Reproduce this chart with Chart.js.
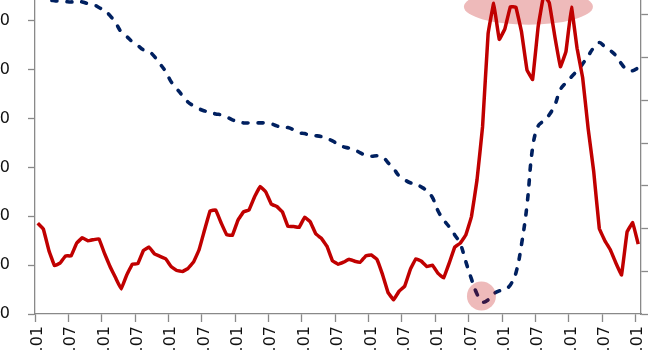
<!DOCTYPE html>
<html>
<head>
<meta charset="utf-8">
<script src="https://cdn.jsdelivr.net/npm/chart.js@4.4.1/dist/chart.umd.min.js"></script>
<style>
  html, body { margin: 0; padding: 0; background: #ffffff; overflow: hidden; width: 650px; height: 350px; }
  #wrap { position: absolute; left: -60px; top: -56px; width: 780px; height: 456px; }
  canvas { display: block; }
</style>
</head>
<body>
<div id="wrap"><canvas id="c" width="780" height="456"></canvas></div>
<script>
// ---- categories (monthly, 2002.01 .. 2011.01) ----
const startYear = 2002;
const monthCount = 109;
const months = [];
for (let k = 0; k < monthCount; k++) {
  const y = startYear + Math.floor(k / 12);
  const m = (k % 12) + 1;
  months.push(y + '.' + (m < 10 ? '0' + m : m));
}

// ---- left axis series (red, solid) ----
const redSeries = [
  18.6, 17.4, 13.0, 9.9, 10.4, 11.9, 11.9, 14.5, 15.6, 15.0,
  15.2, 15.4, 12.4, 9.7, 7.4, 5.1, 8.0, 10.2, 10.3, 13.0,
  13.7, 12.3, 11.8, 11.3, 9.7, 8.9, 8.7, 9.3, 10.6, 13.1,
  17.2, 21.1, 21.3, 18.6, 16.2, 16.1, 19.2, 20.9, 21.3, 24.0,
  26.1, 25.0, 22.5, 22.0, 20.9, 17.9, 17.9, 17.7, 19.8, 18.9,
  16.4, 15.5, 13.9, 10.9, 10.2, 10.6, 11.2, 10.8, 10.6, 11.9,
  12.1, 11.2, 8.1, 4.4, 2.9, 4.7, 5.7, 9.1, 11.3, 10.8,
  9.7, 10.0, 8.3, 7.4, 10.4, 13.7, 14.5, 16.2, 19.9, 27.4,
  38.3, 57.4, 63.6, 56.2, 58.3, 62.9, 62.8, 57.8, 49.9, 48.0,
  58.8, 65.3, 63.7, 56.8, 50.6, 53.7, 62.8, 54.4, 48.4, 37.9,
  29.1, 17.5, 15.0, 13.1, 10.4, 8.0, 16.8, 18.7, 14.3
];

// ---- right axis series (navy, dashed) ----
const blueSeries = [
  74.5, 74.0, 73.5, 73.3, 73.2, 73.1, 73.0, 73.2, 73.0, 72.6,
  72.4, 71.7, 71.0, 69.8, 68.1, 66.0, 64.9, 63.7, 62.8, 61.8,
  61.4, 60.2, 58.5, 56.7, 54.3, 52.7, 51.1, 49.6, 48.7, 48.0,
  47.5, 47.2, 46.8, 46.6, 46.1, 45.4, 45.1, 44.7, 44.7, 44.7,
  44.7, 44.7, 44.5, 44.0, 43.7, 43.6, 43.1, 42.4, 42.2, 41.8,
  41.7, 41.5, 41.0, 40.5, 39.7, 39.1, 38.8, 38.4, 37.7, 37.1,
  36.9, 37.0, 36.8, 35.4, 34.0, 32.3, 31.4, 30.7, 30.4, 29.7,
  28.8, 27.2, 24.1, 22.0, 20.4, 18.5, 16.4, 12.2, 8.2, 4.7,
  2.8, 3.3, 4.7, 5.4, 5.7, 6.8, 9.6, 16.2, 25.5, 38.9,
  44.0, 45.2, 46.6, 48.9, 52.5, 54.1, 55.5, 56.9, 58.5, 60.4,
  62.3, 63.5, 62.5, 61.6, 60.4, 58.5, 57.1, 56.9, 57.6
];

// ---- axis ranges ----
const leftTicks = { min: 0, max: 70, step: 10 };
const rightTicks = { min: 0, max: 80, step: 10 };

// ---- highlight marks (positioned in data coordinates) ----
const highlights = [
  { index: 88.25, value: 62.9, axis: 'y', rx: 64.5, ry: 18 },
  { index: 79.8, value: 4.2, axis: 'y1', rx: 14.5, ry: 14.5 }
];

const AXIS = '#898989';
const TEXT = '#111111';
const FONT = { family: 'DejaVu Sans', size: 16 };

const highlightPlugin = {
  id: 'highlights',
  afterDatasetsDraw(chart) {
    const ctx = chart.ctx;
    const xs = chart.scales.x;
    ctx.save();
    ctx.fillStyle = 'rgba(192,0,0,0.27)';
    highlights.forEach(h => {
      const cx = xs.getPixelForValue(h.index);
      const cy = chart.scales[h.axis].getPixelForValue(h.value);
      ctx.beginPath();
      ctx.ellipse(cx, cy, h.rx, h.ry, 0, 0, Math.PI * 2);
      ctx.fill();
    });
    ctx.restore();
  }
};

new Chart(document.getElementById('c'), {
  type: 'line',
  data: {
    labels: months,
    datasets: [
      {
        data: redSeries,
        yAxisID: 'y',
        borderColor: '#C00000',
        borderWidth: 3.5,
        borderJoinStyle: 'round',
        pointRadius: 0,
        tension: 0.05,
        fill: false
      },
      {
        data: blueSeries,
        yAxisID: 'y1',
        borderColor: '#002060',
        borderWidth: 3.6,
        borderDash: [5, 10],
        borderCapStyle: 'round',
        pointRadius: 0,
        tension: 0.4,
        fill: false
      }
    ]
  },
  options: {
    responsive: false,
    animation: false,
    devicePixelRatio: 1,
    layout: { padding: { top: 28, left: 0, right: 0, bottom: 0 } },
    plugins: { legend: { display: false }, tooltip: { enabled: false } },
    scales: {
      x: {
        type: 'category',
        offset: true,
        afterFit: s => { s.height = 86; },
        border: { display: true, color: AXIS, width: 1.3 },
        grid: {
          display: true,
          offset: true,
          drawOnChartArea: false,
          drawTicks: true,
          tickLength: 8,
          tickColor: c => (c.index % 6 === 0 ? AXIS : 'rgba(0,0,0,0)'),
          tickWidth: 1.3
        },
        ticks: {
          autoSkip: false,
          minRotation: 90,
          maxRotation: 90,
          padding: 4,
          color: TEXT,
          font: FONT,
          callback: (v, i) => (i % 6 === 0 ? months[i] : '')
        }
      },
      y: {
        position: 'left',
        min: leftTicks.min,
        max: leftTicks.max,
        afterFit: s => { s.width = 95; },
        border: { display: true, color: AXIS, width: 1.3 },
        grid: { display: true, drawOnChartArea: false, drawTicks: true, tickLength: 7, tickColor: AXIS, tickWidth: 1.3 },
        ticks: { stepSize: leftTicks.step, padding: 18, color: TEXT, font: FONT }
      },
      y1: {
        position: 'right',
        min: rightTicks.min,
        max: rightTicks.max,
        afterFit: s => { s.width = 79; },
        border: { display: true, color: AXIS, width: 1.3 },
        grid: { display: true, drawOnChartArea: false, drawTicks: true, tickLength: 7, tickColor: AXIS, tickWidth: 1.3 },
        ticks: { stepSize: rightTicks.step, padding: 4, color: TEXT, font: FONT }
      }
    }
  },
  plugins: [highlightPlugin]
});
</script>
</body>
</html>
